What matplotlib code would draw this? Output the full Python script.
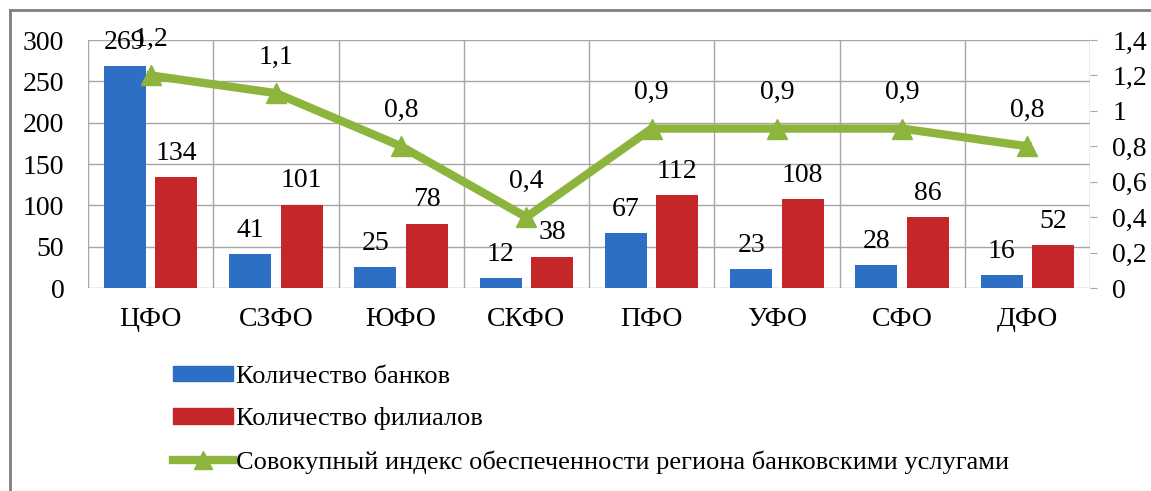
import matplotlib
matplotlib.use("Agg")
import matplotlib.pyplot as plt
import numpy as np
from matplotlib.lines import Line2D
from matplotlib.patches import Patch

categories = ["ЦФО", "СЗФО", "ЮФО", "СКФО", "ПФО", "УФО", "СФО", "ДФО"]
banks = [269, 41, 25, 12, 67, 23, 28, 16]
branches = [134, 101, 78, 38, 112, 108, 86, 52]
index = [1.2, 1.1, 0.8, 0.4, 0.9, 0.9, 0.9, 0.8]

left_ticks = [0, 50, 100, 150, 200, 250, 300]
right_ticks = [0, 0.2, 0.4, 0.6, 0.8, 1.0, 1.2, 1.4]
right_labels = ["0", "0,2", "0,4", "0,6", "0,8", "1", "1,2", "1,4"]

label_banks = "Количество банков"
label_branches = "Количество филиалов"
label_index = "Совокупный индекс обеспеченности региона банковскими услугами"

FAM = 'Liberation Serif'
plt.rcParams['font.family'] = [FAM, 'DejaVu Serif']

BLUE = "#2E6FC6"
RED = "#C4262A"
GREEN = "#8DB43C"
GRID = "#A6A6A6"
FS = 20

W, H = 1151, 491
fig = plt.figure(figsize=(W / 100, H / 100), dpi=100)
ax = fig.add_axes([88 / W, 1 - 288 / H, (1090 - 88) / W, (288 - 40) / H])
ax2 = ax.twinx()

x = np.arange(len(categories))
bw = 0.335
off = 0.205
ax.bar(x - off, banks, bw, color=BLUE, zorder=2)
ax.bar(x + off, branches, bw, color=RED, zorder=2)

ax.set_xlim(-0.5, len(categories) - 0.5)
ax.set_ylim(0, 300)
ax.set_yticks(left_ticks)
ax.set_yticklabels([str(t) for t in left_ticks], family=FAM, fontsize=FS)
ax.set_xticks(x)
ax.set_xticklabels(categories, family=FAM, fontsize=FS)
ax.tick_params(axis='y', length=0, pad=17)
ax.tick_params(axis='x', length=0, pad=14)

for t in left_ticks:
    ax.axhline(t, color=GRID, lw=1, zorder=0)
for b in np.arange(-0.5, len(categories) + 0.5, 1):
    ax.axvline(b, color=GRID, lw=1, zorder=0)
for s in ax.spines.values():
    s.set_visible(False)
for s in ax2.spines.values():
    s.set_visible(False)

for xi, v in zip(x - off, banks):
    ax.annotate(str(v), (xi, v), xytext=(0, 8), textcoords='offset points',
                ha='center', va='bottom', fontsize=FS, family=FAM, zorder=5)
for xi, v in zip(x + off, branches):
    ax.annotate(str(v), (xi, v), xytext=(0, 8), textcoords='offset points',
                ha='center', va='bottom', fontsize=FS, family=FAM, zorder=5)

ax2.plot(x, index, color=GREEN, lw=6, marker='^', markersize=15, zorder=4)
ax2.set_ylim(0, 1.4)
ax2.set_yticks(right_ticks)
ax2.set_yticklabels(right_labels, family=FAM, fontsize=FS)
ax2.tick_params(axis='y', length=5, color=GRID, pad=11)
for xi, v in zip(x, index):
    ax2.annotate(f"{v:.1f}".replace('.', ','), (xi, v), xytext=(0, 17),
                 textcoords='offset points', ha='center', va='bottom',
                 fontsize=FS, family=FAM, zorder=5)

fig.add_artist(Line2D([10 / W, 10 / W], [0, 1 - 10 / H], transform=fig.transFigure, color="#808080", lw=2))
fig.add_artist(Line2D([10 / W, 1], [1 - 10 / H, 1 - 10 / H], transform=fig.transFigure, color="#808080", lw=2))

handles = [Patch(color=BLUE), Patch(color=RED),
           Line2D([0], [0], color=GREEN, lw=6, marker='^', markersize=13)]
fig.legend(handles, [label_banks, label_branches, label_index],
           loc='upper left', bbox_to_anchor=(162 / W, 1 - 355 / H), frameon=False,
           prop={'family': FAM, 'size': 19}, handlelength=2.3, handleheight=0.5,
           handletextpad=0.1, labelspacing=0.75, borderaxespad=0)

fig.savefig("out.png", dpi=100)
